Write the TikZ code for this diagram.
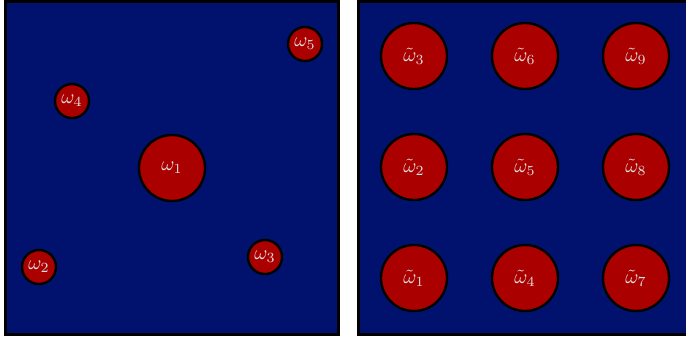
\documentclass[tikz,border=0pt]{standalone}
\usepackage{tikz}
\usetikzlibrary{positioning}
\definecolor{navy}{RGB}{0,18,110}
\definecolor{deepred}{RGB}{170,0,0}
\tikzset{
  region/.style={draw=black,fill=navy,line width=1.5pt},
  bigdot/.style={circle,draw=black,fill=deepred,line width=1.2pt,inner sep=0pt,minimum size=33pt,text=white!88!black},
  smalldot/.style={circle,draw=black,fill=deepred,line width=1.2pt,inner sep=0pt,minimum size=17pt,text=white!88!black}
}
\begin{document}
\begin{tikzpicture}[x=0.5pt,y=-0.5pt]
  \useasboundingbox (0,0) rectangle (686,339);
  % random placement
  \draw[region] (5,1) rectangle (338,334);
  \node[bigdot] (w1) at (172,168) {$\omega_1$};
  \node[smalldot] (w2) at (39,267) {$\omega_2$};
  \node[smalldot] (w3) at (265,257) {$\omega_3$};
  \node[smalldot] (w4) at (72,101) {$\omega_4$};
  \node[smalldot] (w5) at (305,44) {$\omega_5$};

  % regular grid
  \draw[region] (358,1) rectangle (691,334);
  \foreach \i in {1,2,3} {
    \foreach \j in {1,2,3} {
      \pgfmathtruncatemacro{\k}{3*(\i-1)+\j}
      \node[bigdot] (t\k) at ({414+111*(\i-1)},{389-111*\j}) {$\tilde{\omega}_{\k}$};
    }
  }
\end{tikzpicture}
\end{document}
